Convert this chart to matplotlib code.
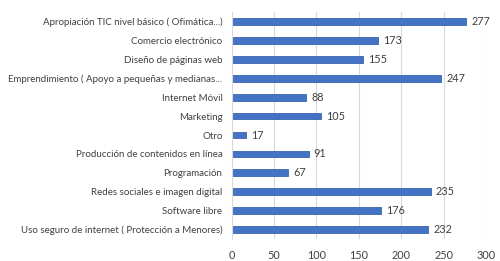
import matplotlib
matplotlib.use('Agg')
import matplotlib.pyplot as plt
import numpy as np

categories = [
    'Apropiación TIC nivel básico ( Ofimática...)',
    'Comercio electrónico',
    'Diseño de páginas web',
    'Emprendimiento ( Apoyo a pequeñas y medianas...',
    'Internet Móvil',
    'Marketing',
    'Otro',
    'Producción de contenidos en línea',
    'Programación',
    'Redes sociales e imagen digital',
    'Software libre',
    'Uso seguro de internet ( Protección a Menores)',
]
values = [277, 173, 155, 247, 88, 105, 17, 91, 67, 235, 176, 232]
xticks = [0, 50, 100, 150, 200, 250, 300]

plt.rcParams['font.family'] = ['Lato', 'DejaVu Sans']

fig = plt.figure(figsize=(5, 2.61), dpi=100)
ax = fig.add_axes([0.463, 0.084, 0.509, 0.870])

y = np.arange(len(categories))
ax.barh(y, values, height=0.36, color='#4472C4', edgecolor='#3A64AE', linewidth=0.6, zorder=3)
for yi, v in zip(y, values):
    ax.text(v + 6, yi, str(v), va='center', ha='left', fontsize=7.8, color='#404040')

ax.set_ylim(len(categories) - 0.5, -0.5)
ax.set_yticks(y)
ax.set_yticklabels(categories, fontsize=7.0, color='#404040')
ax.set_xlim(0, 300)
ax.set_xticks(xticks)
ax.set_xticklabels([str(t) for t in xticks], fontsize=7.8, color='#404040')
ax.grid(axis='x', color='#D9D9D9', linewidth=0.8, zorder=0)
ax.tick_params(length=0)
ax.tick_params(axis='y', pad=6.5)
ax.tick_params(axis='x', pad=8)
for s in ['top', 'right', 'bottom']:
    ax.spines[s].set_visible(False)
ax.spines['left'].set_color('#D9D9D9')
ax.spines['left'].set_zorder(4)

fig.savefig('out.png', dpi=100)
